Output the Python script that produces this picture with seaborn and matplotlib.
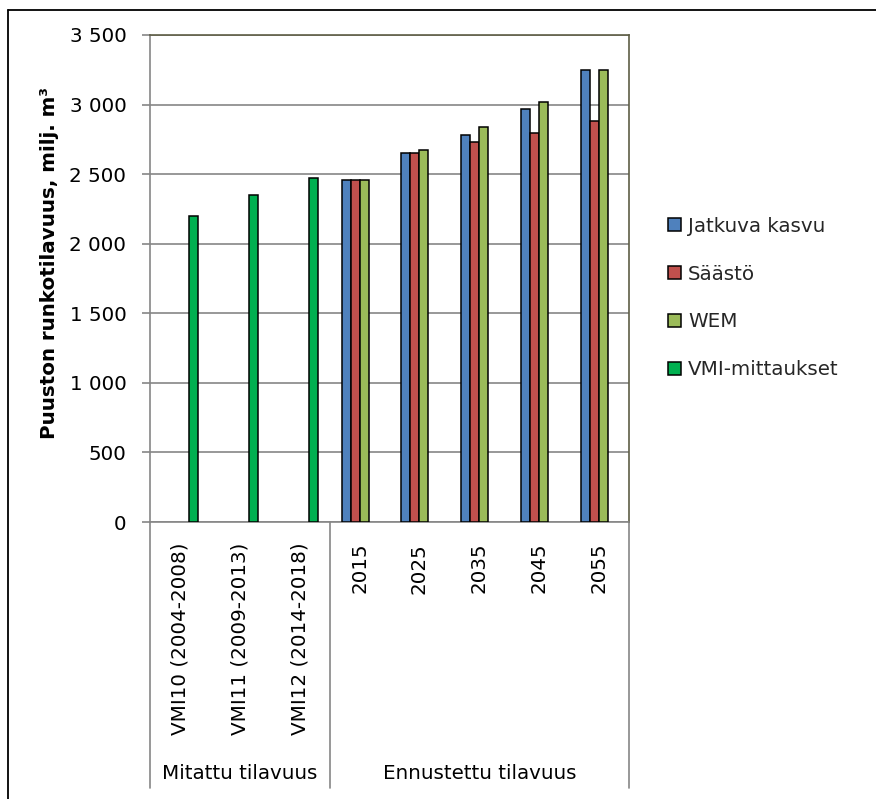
import numpy as np
import pandas as pd
import matplotlib
matplotlib.use("Agg")
import matplotlib.pyplot as plt
from matplotlib.patches import Patch
from matplotlib.lines import Line2D
import matplotlib.transforms as mtransforms
import seaborn as sns

# --- data -------------------------------------------------------------
categories = ["VMI10 (2004-2008)", "VMI11 (2009-2013)", "VMI12 (2014-2018)",
              "2015", "2025", "2035", "2045", "2055"]
series_names = ["Jatkuva kasvu", "Säästö", "WEM", "VMI-mittaukset"]
jatkuva_kasvu = [np.nan, np.nan, np.nan, 2460, 2650, 2780, 2970, 3245]
saasto = [np.nan, np.nan, np.nan, 2460, 2650, 2730, 2795, 2880]
wem = [np.nan, np.nan, np.nan, 2460, 2675, 2840, 3015, 3245]
vmi_mittaukset = [2200, 2350, 2470, np.nan, np.nan, np.nan, np.nan, np.nan]
group_labels = ["Mitattu tilavuus", "Ennustettu tilavuus"]
group_spans = [(0, 2), (3, 7)]
y_ticks = [0, 500, 1000, 1500, 2000, 2500, 3000, 3500]
y_label = "Puuston runkotilavuus, milj. m³"

colors = {"Jatkuva kasvu": "#4F81BD", "Säästö": "#C0504D",
          "WEM": "#9BBB59", "VMI-mittaukset": "#00B050"}

rows = []
for name, vals in zip(series_names, [jatkuva_kasvu, saasto, wem, vmi_mittaukset]):
    for cat, v in zip(categories, vals):
        rows.append({"luokka": cat, "sarja": name, "arvo": v})
df = pd.DataFrame(rows)

# --- style ------------------------------------------------------------
sns.set_style("white")
plt.rcParams["font.family"] = ["DejaVu Sans"]
FS = 14.3
TXT = "black"
W, H = 876, 799
fig = plt.figure(figsize=(W / 100, H / 100), dpi=100)
L, R, T, B = 150, 629, 35, 522
ax = fig.add_axes([L / W, 1 - B / H, (R - L) / W, (B - T) / H])

grid_c = "#868686"
frame_c = "#5E5D45"

sns.barplot(data=df, x="luokka", y="arvo", hue="sarja", order=categories,
            hue_order=series_names, palette=colors, width=0.6, dodge=True,
            edgecolor="black", linewidth=1.1, saturation=1, legend=False,
            ax=ax, zorder=3)

ax.set_xlim(-0.5, len(categories) - 0.5)
ax.set_ylim(0, 3500)
ax.set_yticks(y_ticks)
ax.set_yticklabels([f"{v:,}".replace(",", " ") for v in y_ticks], fontsize=FS,
                   color=TXT)
ax.yaxis.grid(True, color=grid_c, linewidth=1.2, zorder=0)
ax.set_axisbelow(True)
ax.tick_params(axis="y", direction="out", length=6, width=1.2, color=grid_c,
               pad=11, left=True)
ax.set_xticks(range(len(categories)))
ax.set_xticklabels(categories, rotation=90, fontsize=FS, va="top", ha="center",
                   color=TXT)
ax.tick_params(axis="x", length=0, pad=15)
ax.set_xlabel("")
ax.set_ylabel("")

for side in ["left", "bottom"]:
    ax.spines[side].set_color(grid_c)
    ax.spines[side].set_linewidth(1.2)
for side in ["top", "right"]:
    ax.spines[side].set_color(frame_c)
    ax.spines[side].set_linewidth(1.2)
ax.spines["right"].set_visible(True)
ax.spines["top"].set_visible(True)

# multi-level category axis: separators and group labels
trans = mtransforms.blended_transform_factory(ax.transData, ax.transAxes)
sep_bottom = (B - 788) / (B - T)
for x in [-0.5, 2.5, len(categories) - 0.5]:
    ax.add_line(Line2D([x, x], [0, sep_bottom], transform=trans, color=grid_c,
                       linewidth=1.2, clip_on=False))
grp_y = (B - 773) / (B - T)
for lab, (a, b) in zip(group_labels, group_spans):
    ax.text((a + b) / 2, grp_y, lab, transform=trans, ha="center", va="center",
            fontsize=FS, color=TXT)

# y-axis title
fig.text(50 / W, 1 - 263 / H, y_label, rotation=90, ha="center", va="center",
         fontsize=FS, fontweight="bold", color=TXT)

# legend
handles = [Patch(facecolor=colors[n], edgecolor="black", linewidth=1.1, label=n)
           for n in series_names]
fig.legend(handles=handles, loc="center left",
           bbox_to_anchor=(668 / W, 1 - 298 / H), frameon=False, fontsize=FS,
           handlelength=0.65, handleheight=0.65, handletextpad=0.35,
           labelspacing=1.45, borderpad=0, borderaxespad=0)

# chart-area border
fig.add_artist(Line2D([8 / W, 8 / W], [0, 1 - 10 / H], transform=fig.transFigure,
                      color="black", linewidth=1.3))
fig.add_artist(Line2D([8 / W, 1], [1 - 10 / H, 1 - 10 / H],
                      transform=fig.transFigure, color="black", linewidth=1.3))

fig.savefig("out.png", dpi=100)
